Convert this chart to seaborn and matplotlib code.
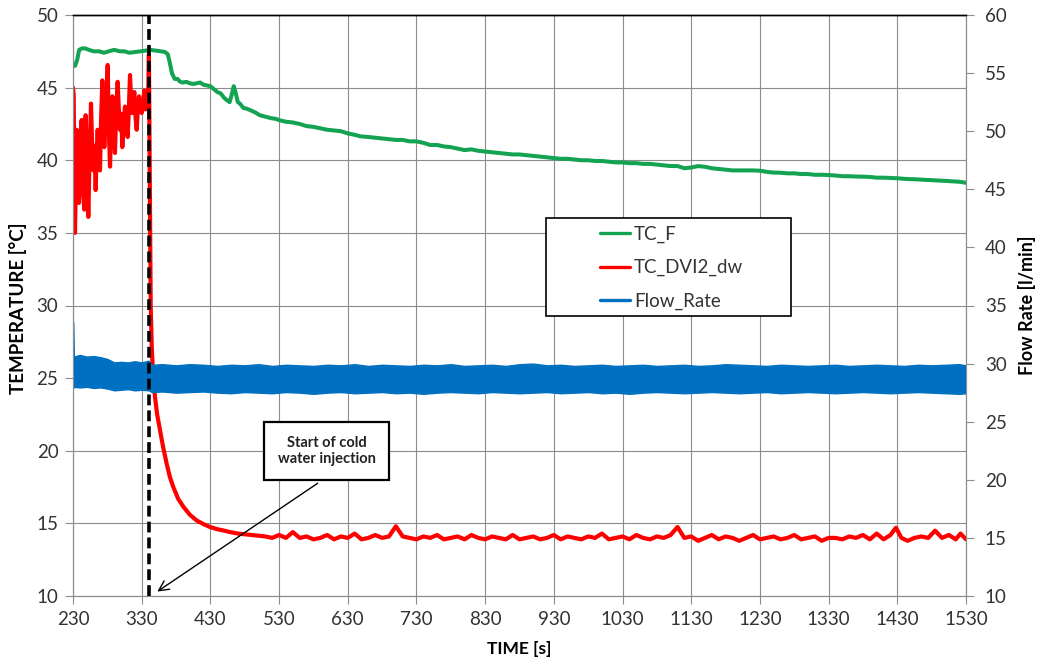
import numpy as np
import pandas as pd
import seaborn as sns
import matplotlib.pyplot as plt
from matplotlib.lines import Line2D
from matplotlib.patches import Rectangle

# ---------------- data ----------------
tcf_time = [230, 233, 236, 239, 243, 248, 253, 260, 268, 275, 282, 290, 298, 305, 312, 320, 328, 336,
            342, 350, 358, 364, 368, 371, 374, 378, 382, 386, 390, 395, 400, 405, 410, 415, 420, 425,
            430, 435, 440, 445, 450, 455, 458, 461, 464, 467, 470, 473, 478, 483, 488, 495, 502, 510,
            518, 525, 531, 540, 550, 560, 570, 580, 590, 600, 610, 620, 630, 640, 648, 660, 670, 680,
            690, 700, 710, 720, 730, 740, 750, 760, 770, 780, 790, 800, 810, 820, 830, 840, 850, 860,
            870, 880, 890, 900, 910, 920, 930, 940, 950, 960, 970, 980, 990, 1000, 1010, 1020, 1030,
            1040, 1050, 1060, 1070, 1080, 1090, 1100, 1110, 1120, 1130, 1140, 1150, 1160, 1170, 1180,
            1190, 1200, 1210, 1220, 1230, 1240, 1250, 1260, 1270, 1280, 1290, 1300, 1310, 1320, 1330,
            1340, 1350, 1360, 1370, 1380, 1390, 1400, 1410, 1420, 1430, 1440, 1450, 1460, 1470, 1480,
            1490, 1500, 1510, 1520, 1530]
tcf_temp = [46.5, 46.5, 46.9, 47.6, 47.7, 47.7, 47.6, 47.5, 47.5, 47.4, 47.5, 47.6, 47.5, 47.5, 47.4,
            47.45, 47.5, 47.55, 47.6, 47.55, 47.5, 47.45, 47.3, 46.7, 46.0, 45.6, 45.6, 45.4, 45.35,
            45.4, 45.3, 45.25, 45.3, 45.35, 45.2, 45.15, 45.1, 44.9, 44.7, 44.6, 44.3, 44.1, 44.0,
            44.5, 45.1, 44.6, 44.0, 43.9, 43.6, 43.55, 43.45, 43.3, 43.1, 43.0, 42.9, 42.85, 42.75,
            42.65, 42.6, 42.5, 42.35, 42.3, 42.2, 42.1, 42.05, 42.0, 41.85, 41.75, 41.65, 41.6, 41.55,
            41.5, 41.45, 41.4, 41.4, 41.3, 41.3, 41.2, 41.05, 41.05, 40.95, 40.9, 40.8, 40.7, 40.75,
            40.65, 40.6, 40.55, 40.5, 40.45, 40.4, 40.4, 40.35, 40.3, 40.25, 40.2, 40.15, 40.1, 40.1,
            40.05, 40.0, 40.0, 39.95, 39.95, 39.9, 39.85, 39.85, 39.8, 39.8, 39.75, 39.75, 39.7,
            39.65, 39.6, 39.6, 39.45, 39.5, 39.6, 39.55, 39.45, 39.4, 39.35, 39.3, 39.3, 39.3, 39.3,
            39.28, 39.2, 39.15, 39.14, 39.1, 39.1, 39.05, 39.05, 39.0, 39.0, 38.98, 38.95, 38.9,
            38.9, 38.88, 38.87, 38.85, 38.8, 38.8, 38.78, 38.76, 38.72, 38.7, 38.68, 38.65, 38.63,
            38.6, 38.58, 38.55, 38.52, 38.45]

dvi_time = [230, 231, 232.9, 235.3, 237, 238.7, 240.5, 242.6, 244.5, 246.5, 248.4, 250.3, 252.3, 254.2,
            256.2, 257.9, 259.6, 261.3, 263, 264.5, 265.9, 267.6, 269.3, 271, 272.7, 274.2, 275.6,
            278, 280.5, 282.2, 283.9, 285.6, 287.3, 289.2, 291.1, 293, 295, 296.7, 298.4, 300.1,
            301.8, 303.7, 305.7, 307.6, 309.6, 311.3, 313, 314.7, 316.4, 317.8, 319.3, 321, 322.7,
            324.4, 326.1, 328, 330, 332, 333.8, 335.5, 337.2, 338.5, 339.7, 340.5, 341.5, 342.3,
            343.1, 344.6, 346.5, 349.4, 352.5, 356.7, 361, 366.4, 371, 376, 383, 390.6, 400, 410,
            420, 429.4, 440, 450, 458.6, 470, 480, 490, 500,
            510, 520, 530, 540, 550, 560, 570, 580, 590, 600, 610, 620, 630, 640, 650, 660, 670, 680,
            690, 700, 710, 720, 730, 740, 750, 760, 770, 780, 790, 800, 810, 820, 830, 840, 850, 860,
            870, 880, 890, 900, 910, 920, 930, 940, 950, 960, 970, 980, 990, 1000, 1010, 1020, 1030,
            1040, 1050, 1060, 1070, 1080, 1090, 1100, 1110, 1120, 1130, 1140, 1150, 1160, 1170, 1180,
            1190, 1200, 1210, 1220, 1230, 1240, 1250, 1260, 1270, 1280, 1290, 1300, 1310, 1320, 1330,
            1340, 1350, 1360, 1370, 1380, 1390, 1400, 1410, 1420, 1428, 1436, 1445, 1455, 1465, 1475,
            1485, 1495, 1505, 1515, 1522, 1530]
dvi_temp = [45.0, 44.5, 35.0, 42.1, 38.5, 37.06, 41.5, 42.77, 38.0, 36.6, 43.1, 40.0, 36.1, 40.5,
            43.9, 41.0, 39.3, 41.0, 37.95, 40.5, 42.1, 40.0, 39.3, 43.0, 45.5, 42.5, 40.9, 43.5,
            46.56, 42.0, 39.56, 42.5, 44.4, 42.0, 40.5, 43.5, 45.4, 43.5, 42.1, 43.2, 40.9, 42.5,
            43.7, 42.5, 41.6, 43.5, 45.87, 44.0, 43.25, 44.2, 44.7, 43.0, 42.1, 43.5, 44.4, 43.5,
            43.25, 44.0, 44.8, 43.5, 43.9, 44.5, 45.0, 47.3, 40.5, 35.2, 30.0, 27.2, 25.3, 23.7,
            22.5, 21.4, 20.3, 19.1, 18.2, 17.5, 16.7, 16.15, 15.6, 15.2, 14.95, 14.75, 14.6, 14.5,
            14.4, 14.3, 14.25, 14.2, 14.15,
            14.1, 14.0, 14.2, 14.0, 14.4, 14.0, 14.1, 13.9, 14.0, 14.2, 13.9, 14.1, 14.0, 14.3, 13.9,
            14.0, 14.2, 14.0, 14.1, 14.8, 14.1, 14.0, 13.9, 14.1, 14.0, 14.2, 13.9, 14.0, 14.1, 13.9,
            14.2, 14.0, 13.9, 14.1, 14.0, 13.9, 14.2, 13.9, 14.0, 14.1, 13.9, 14.0, 14.2, 13.9, 14.1,
            14.0, 13.9, 14.1, 14.0, 14.3, 13.9, 14.0, 14.1, 13.9, 14.2, 14.0, 13.9, 14.1, 14.0, 14.2,
            14.75, 14.0, 14.1, 13.8, 14.0, 14.2, 13.9, 14.1, 14.0, 13.8, 14.0, 14.2, 13.9, 14.0, 14.1,
            13.9, 14.0, 14.2, 13.9, 14.0, 14.1, 13.8, 14.0, 14.0, 13.9, 14.1, 14.0, 14.2, 13.9, 14.3,
            13.9, 14.2, 14.7, 14.0, 13.8, 14.0, 14.1, 14.0, 14.5, 14.0, 14.2, 13.9, 14.3, 13.9]

# Flow_Rate: envelope (upper / lower edge) of the dense oscillating signal [l/min]
flow_time = [230, 231, 240, 250, 260, 270, 280, 290, 300, 310, 320, 330, 340, 345, 360, 380, 400, 420,
             440, 460, 480, 500, 520, 540, 560, 580, 600, 620, 640, 660, 680, 700, 720, 740, 760, 780,
             800, 820, 840, 860, 880, 900, 920, 940, 960, 980, 1000, 1020, 1040, 1060, 1080, 1100,
             1120, 1140, 1160, 1180, 1200, 1220, 1240, 1260, 1280, 1300, 1320, 1340, 1360, 1380, 1400,
             1420, 1440, 1460, 1480, 1500, 1520, 1530]
flow_upper = [33.6, 30.6, 30.75, 30.6, 30.65, 30.55, 30.4, 30.1, 30.15, 30.1, 30.2, 30.1, 30.25, 29.9,
              29.95, 29.85, 29.95, 29.9, 29.8, 29.9, 29.85, 29.95, 29.8, 29.9, 29.85, 29.8, 29.9,
              29.85, 29.95, 29.8, 29.9, 29.85, 29.8, 29.9, 29.85, 29.95, 29.8, 29.85, 29.9, 29.8,
              29.95, 30.0, 29.85, 29.9, 29.8, 29.85, 29.9, 29.8, 29.85, 29.9, 29.8, 29.85, 29.9, 29.8,
              29.85, 29.95, 29.9, 29.85, 29.8, 29.9, 29.85, 29.8, 29.85, 29.9, 29.8, 29.85, 29.9,
              29.85, 29.8, 29.9, 29.85, 29.9, 29.95, 29.85]
flow_lower = [27.9, 28.0, 27.95, 28.0, 27.9, 27.95, 27.85, 27.7, 27.75, 27.8, 27.7, 27.75, 27.7, 27.55,
              27.6, 27.5, 27.55, 27.6, 27.5, 27.45, 27.55, 27.5, 27.45, 27.55, 27.5, 27.4, 27.5,
              27.55, 27.45, 27.5, 27.55, 27.45, 27.5, 27.4, 27.5, 27.55, 27.5, 27.45, 27.55, 27.5,
              27.45, 27.5, 27.55, 27.45, 27.5, 27.55, 27.45, 27.5, 27.4, 27.5, 27.55, 27.5, 27.45,
              27.5, 27.55, 27.5, 27.45, 27.5, 27.55, 27.45, 27.5, 27.55, 27.5, 27.45, 27.5, 27.55,
              27.5, 27.45, 27.5, 27.55, 27.5, 27.45, 27.4, 27.45]

x_ticks = list(range(230, 1531, 100))
temp_ticks = list(range(10, 51, 5))
flow_ticks = list(range(10, 61, 5))
injection_time = 340
series_names = ["TC_F", "TC_DVI2_dw", "Flow_Rate"]

GREEN = "#13A352"
RED = "#FF0000"
BLUE = "#0070C0"
GRID = "#8c8c8c"
TXT = "#333333"

# ---------------- plot ----------------
sns.set_theme(style="white")
plt.rcParams['font.family'] = ['Lato', 'DejaVu Sans']

fig, ax1 = plt.subplots(figsize=(10.39, 6.66), dpi=100)
fig.subplots_adjust(left=73/1039, right=966/1039, top=1-15/666, bottom=1-596/666)
ax2 = ax1.twinx()

df_f = pd.DataFrame({"t": tcf_time, "T": tcf_temp})
df_d = pd.DataFrame({"t": dvi_time, "T": dvi_temp})
sns.lineplot(data=df_f, x="t", y="T", ax=ax1, color=GREEN, lw=2.9, estimator=None, sort=False)
sns.lineplot(data=df_d, x="t", y="T", ax=ax1, color=RED, lw=3.0, estimator=None, sort=False)
ax2.fill_between(flow_time, flow_lower, flow_upper, color=BLUE, lw=1.0, edgecolor=BLUE)

ax1.set_xlim(230, 1530)
ax1.set_ylim(10, 50)
ax2.set_ylim(10, 60)
ax1.set_xticks(x_ticks)
ax1.set_yticks(temp_ticks)
ax2.set_yticks(flow_ticks)

ax1.set_axisbelow(True)
ax1.grid(True, color=GRID, lw=0.8)
ax2.grid(False)

for ax in (ax1, ax2):
    for s in ("left", "right", "bottom"):
        ax.spines[s].set_color(GRID)
        ax.spines[s].set_linewidth(0.8)
    ax.spines["top"].set_color("black")
    ax.spines["top"].set_linewidth(1.0)

ax1.tick_params(axis="both", which="major", direction="out", length=5.5, width=0.8, color=GRID,
                labelsize=13.5, labelcolor=TXT, bottom=True, left=True, pad=5)
ax2.tick_params(axis="y", direction="out", length=5.5, width=0.8, color=GRID,
                labelsize=13.5, labelcolor=TXT, right=True, left=False, pad=8)

ax1.set_xlabel("TIME [s]", fontsize=12.5, fontweight="bold", color="black")
ax1.set_ylabel("TEMPERATURE [°C]", fontsize=13.5, fontweight="bold", color="black")
ax2.set_ylabel("Flow Rate [l/min]", fontsize=13.0, fontweight="bold", color="black")
ax1.xaxis.set_label_coords(0.5, -0.078)
ax1.yaxis.set_label_coords(-0.052, 0.495)
ax2.yaxis.set_label_coords(1.058, 0.5)

# vertical dashed line at start of cold water injection
ax2.axvline(injection_time, color="black", lw=2.6, ls=(0, (3, 1.4)), zorder=6)

# annotation box + arrow
ax2.text(599, 19.98, "Start of cold\nwater injection", transform=ax1.transData,
         ha="center", va="center", fontsize=10.5, fontweight="bold", color="#222222",
         linespacing=1.25, zorder=8,
         bbox=dict(boxstyle="square,pad=0.95", fc="white", ec="black", lw=1.6))
ax2.annotate("", xy=(349.4, 10.2), xytext=(589.6, 17.87),
             xycoords=ax1.transData, textcoords=ax1.transData,
             arrowprops=dict(arrowstyle="->", color="black", lw=1.0, mutation_scale=18), zorder=8)

# legend
frame = Rectangle(((546-73)/893, 1-(316-15)/581), (791-546)/893, (316-218)/581,
                  transform=ax2.transAxes, fc="white", ec="black", lw=1.2, zorder=9)
ax2.add_patch(frame)
handles = [Line2D([], [], color=GREEN, lw=2.4),
           Line2D([], [], color=RED, lw=2.4),
           Line2D([], [], color=BLUE, lw=2.4)]
leg = ax2.legend(handles, series_names, loc="upper left",
                 bbox_to_anchor=((600-73)/893, 1-(226-15)/581), borderaxespad=0, borderpad=0,
                 frameon=False, fontsize=13.5, handlelength=1.6, handletextpad=0.2,
                 labelspacing=0.85, labelcolor=TXT)
leg.set_zorder(10)

fig.savefig("out.png", dpi=100)
